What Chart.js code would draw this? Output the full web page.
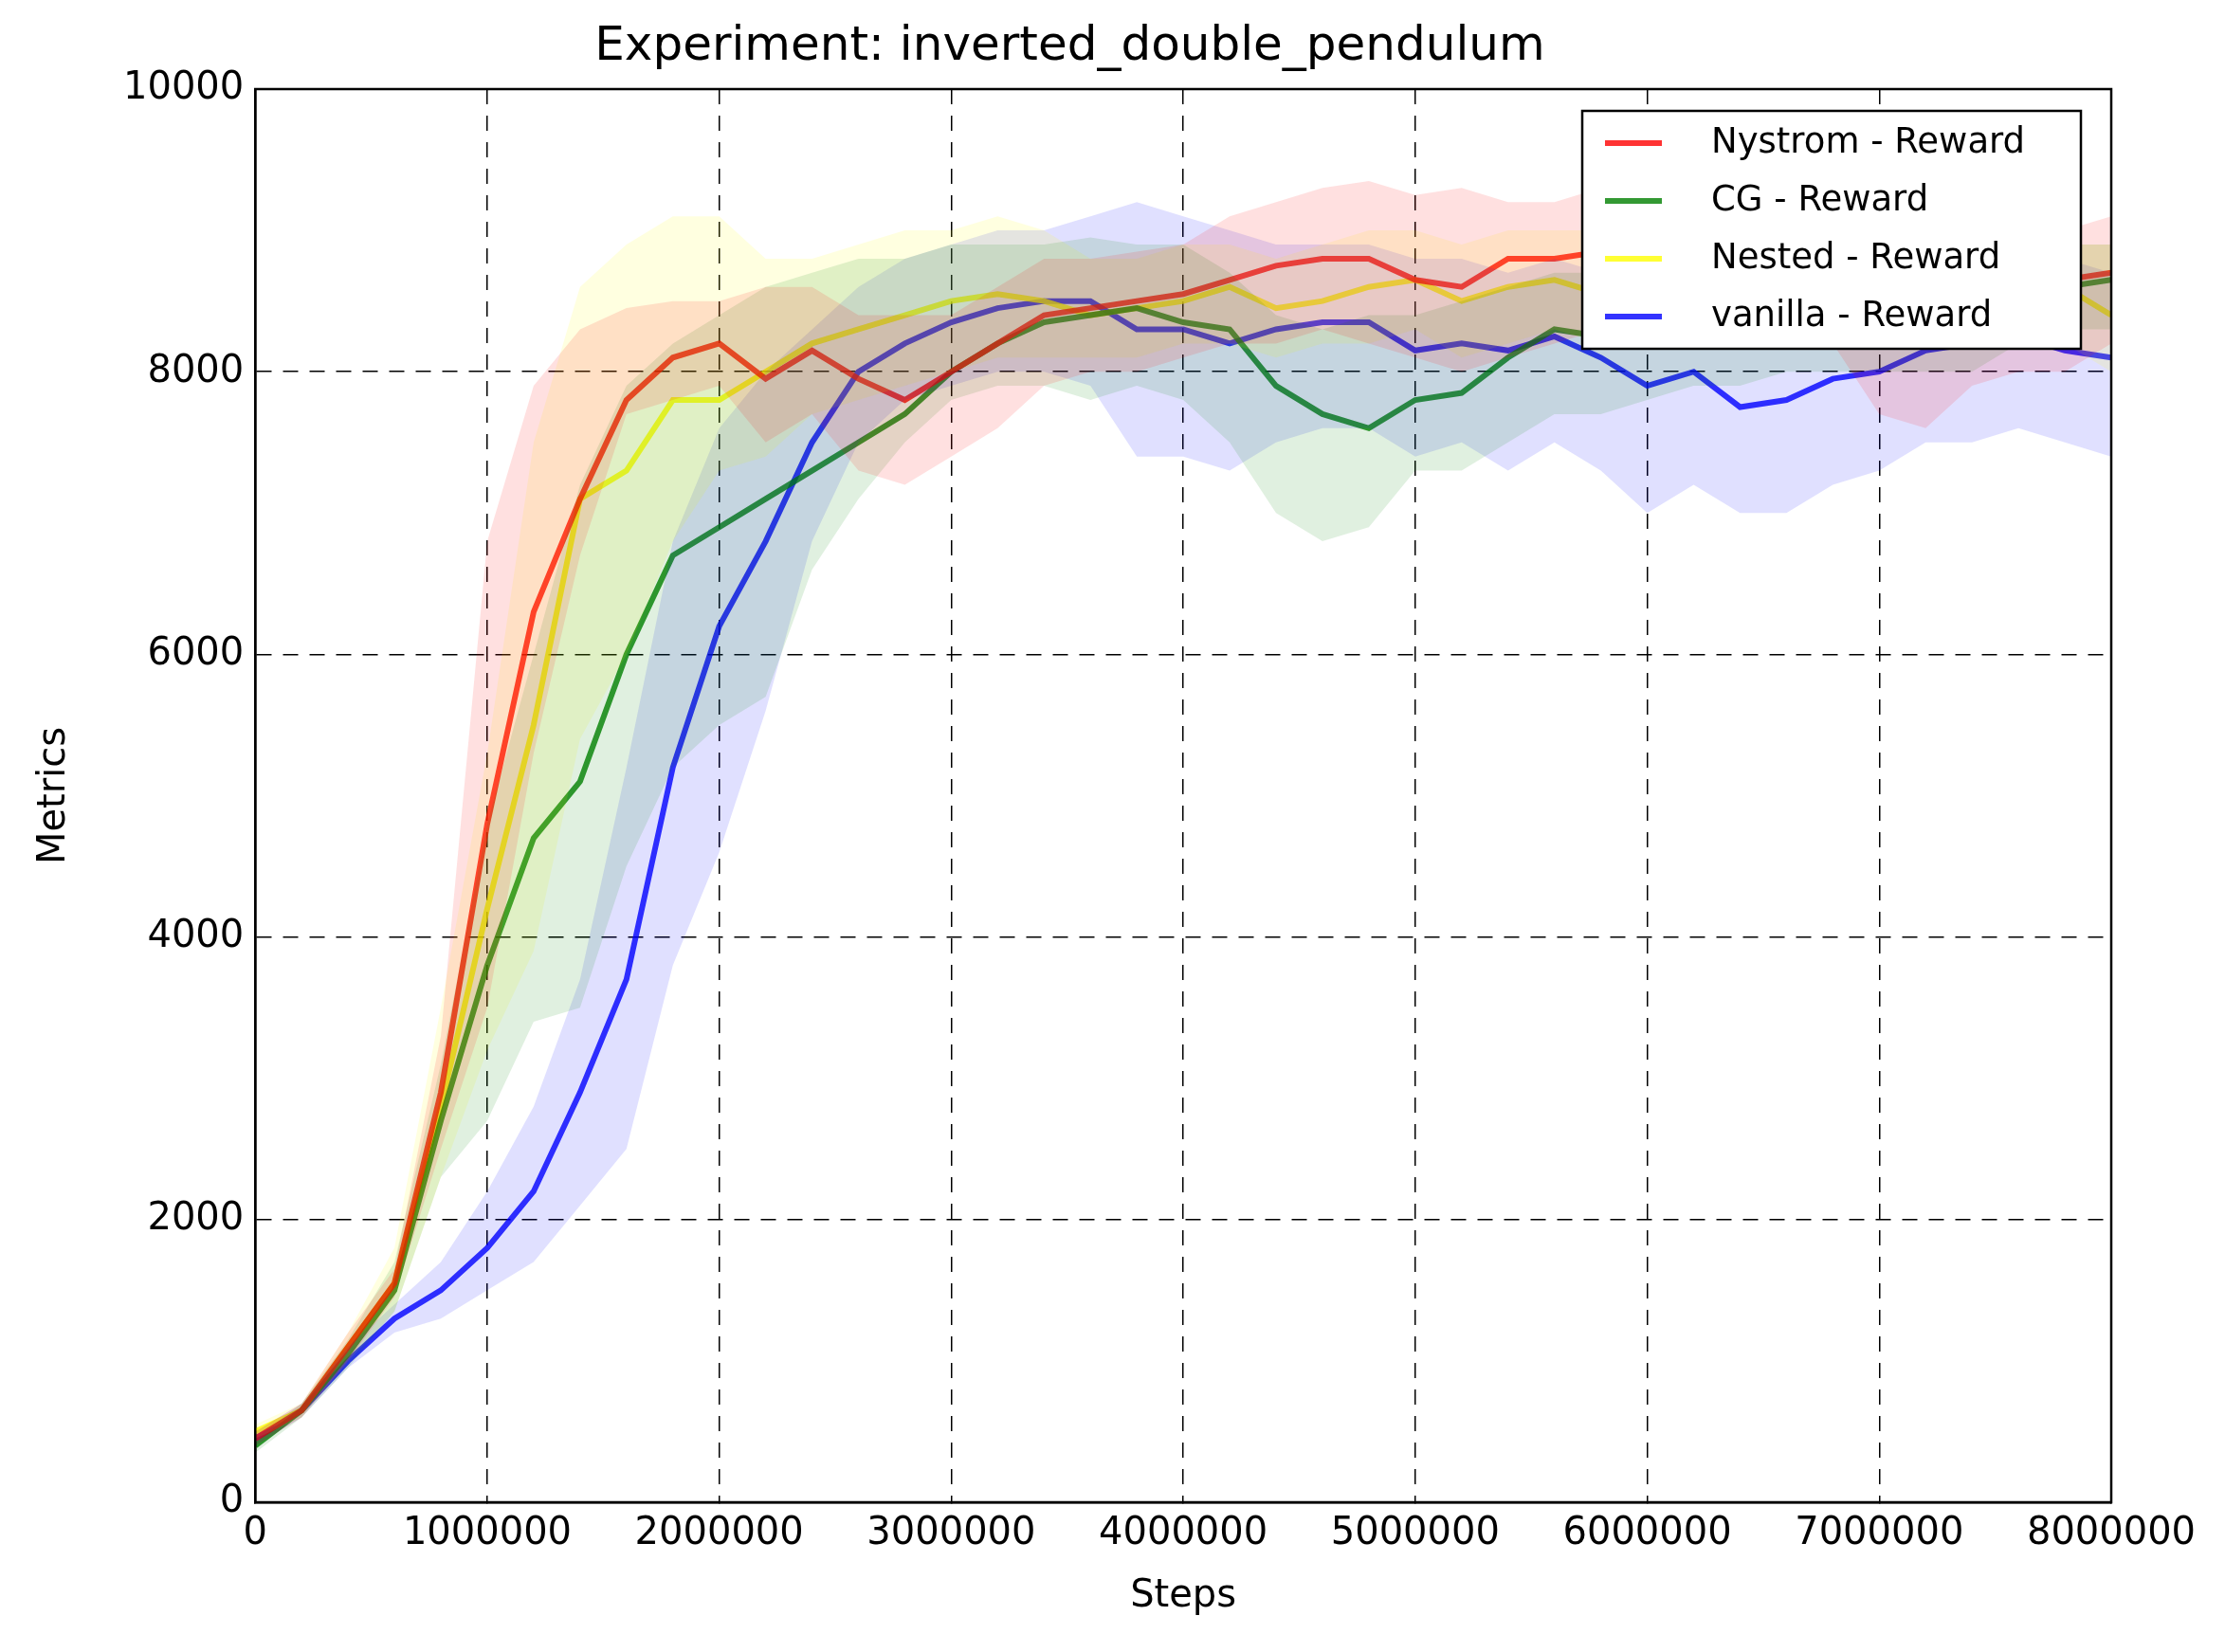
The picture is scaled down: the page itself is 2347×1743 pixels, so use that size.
<!DOCTYPE html>
<html>
<head>
<meta charset="utf-8">
<script src="https://cdn.jsdelivr.net/npm/chart.js@4"></script>
<style>
  body { margin: 0; background: #fff; }
  #wrap { width: 2347px; height: 1743px; }
</style>
</head>
<body>
<div id="wrap"><canvas id="chart" width="2347" height="1743"></canvas></div>
<script>
// steps, every 200000
const steps = [];
for (let i = 0; i <= 40; i++) steps.push(i * 200000);

const nystromMean = [450,650,1100,1550,2900,4800,6300,7100,7800,8100,8200,7950,8150,7950,7800,8000,8200,8400,8450,8500,8550,8650,8750,8800,8800,8650,8600,8800,8800,8850,8800,8850,8900,8850,8800,8700,8700,8750,8700,8650,8700];
const nystromUpper = [500,700,1200,1650,3300,6800,7900,8300,8450,8500,8500,8600,8600,8400,8400,8400,8600,8800,8800,8850,8900,9100,9200,9300,9350,9250,9300,9200,9200,9300,9300,9200,9300,9200,9100,9000,8900,9000,9000,9000,9100];
const nystromLower = [400,600,1000,1450,2500,3500,5300,6700,7700,7800,7900,7500,7700,7300,7200,7400,7600,7900,8000,8000,8100,8200,8200,8300,8200,8100,8000,8100,8200,8300,8200,8300,8400,8300,8200,7700,7600,7900,8000,8000,8200];

const cgMean = [400,650,1050,1500,2700,3800,4700,5100,6000,6700,6900,7100,7300,7500,7700,8000,8200,8350,8400,8450,8350,8300,7900,7700,7600,7800,7850,8100,8300,8250,8300,8350,8400,8450,8500,8500,8550,8600,8650,8600,8650];
const cgUpper = [450,700,1150,1700,3100,4800,6000,7200,7900,8200,8400,8600,8700,8800,8800,8900,8900,8900,8950,8900,8900,8700,8400,8300,8400,8400,8500,8600,8700,8700,8800,8800,8900,8900,9000,9000,9000,9100,9000,8900,8900];
const cgLower = [350,600,950,1350,2300,2700,3400,3500,4500,5200,5500,5700,6600,7100,7500,7800,7900,7900,7800,7900,7800,7500,7000,6800,6900,7300,7300,7500,7700,7700,7800,7900,7900,8000,8000,8000,8000,8000,8200,8300,8300];

const nestedMean = [500,650,1100,1550,2800,4200,5500,7100,7300,7800,7800,8000,8200,8300,8400,8500,8550,8500,8400,8450,8500,8600,8450,8500,8600,8650,8500,8600,8650,8550,8600,8600,8650,8700,8650,8600,8650,8650,8700,8600,8400];
const nestedUpper = [550,700,1200,1800,3500,5300,7500,8600,8900,9100,9100,8800,8800,8900,9000,9000,9100,9000,8800,8800,8900,8900,8800,8900,9000,9000,8900,9000,9000,9000,9000,9000,9100,9100,9100,9000,9100,9100,9000,8900,8900];
const nestedLower = [450,600,1000,1350,2300,3200,3900,5400,6000,6800,7300,7400,7700,7800,7900,8000,8100,8100,8100,8100,8200,8200,8100,8200,8200,8300,8100,8200,8300,8200,8200,8200,8300,8300,8200,8200,8200,8200,8300,8200,8000];

const vanillaMean = [450,650,1000,1300,1500,1800,2200,2900,3700,5200,6200,6800,7500,8000,8200,8350,8450,8500,8500,8300,8300,8200,8300,8350,8350,8150,8200,8150,8250,8100,7900,8000,7750,7800,7950,8000,8150,8200,8250,8150,8100];
const vanillaUpper = [500,700,1100,1400,1700,2200,2800,3700,5200,6800,7600,8000,8300,8600,8800,8900,9000,9000,9100,9200,9100,9000,8900,8900,8900,8800,8800,8700,8800,8700,8700,8700,8600,8600,8700,8700,8800,8800,8900,8800,8700];
const vanillaLower = [400,600,950,1200,1300,1500,1700,2100,2500,3800,4600,5600,6800,7500,7800,7900,8000,8000,7900,7400,7400,7300,7500,7600,7600,7400,7500,7300,7500,7300,7000,7200,7000,7000,7200,7300,7500,7500,7600,7500,7400];

const seriesNames = ['Nystrom - Reward', 'CG - Reward', 'Nested - Reward', 'vanilla - Reward'];
const xTicks = [0,1000000,2000000,3000000,4000000,5000000,6000000,7000000,8000000];
const yTicks = [0,2000,4000,6000,8000,10000];

const series = [
    { name: seriesNames[0], mean: nystromMean, up: nystromUpper, lo: nystromLower, rgb: '255,0,0' },
    { name: seriesNames[1], mean: cgMean, up: cgUpper, lo: cgLower, rgb: '0,128,0' },
    { name: seriesNames[2], mean: nestedMean, up: nestedUpper, lo: nestedLower, rgb: '255,255,0' },
    { name: seriesNames[3], mean: vanillaMean, up: vanillaUpper, lo: vanillaLower, rgb: '0,0,255' }
];

function pts(arr) { return arr.map((v, i) => ({ x: steps[i], y: v })); }

const datasets = [];
series.forEach(s => {
    datasets.push({ label: '', data: pts(s.up), borderWidth: 0, pointRadius: 0, fill: false });
    datasets.push({ label: '', data: pts(s.lo), borderWidth: 0, pointRadius: 0, fill: '-1',
        backgroundColor: 'rgba(' + s.rgb + ',0.12)' });
});
series.forEach(s => {
    datasets.push({ label: s.name, data: pts(s.mean), borderColor: 'rgba(' + s.rgb + ',0.8)',
        borderWidth: 6, pointRadius: 0, fill: false, tension: 0 });
});

// legend drawn inside the plot, top right
const legendBox = {
    id: 'legendBox',
    afterDraw(chart) {
        const ctx = chart.ctx;
        const x = 1669, y = 117, w = 526, h = 251;
        ctx.save();
        ctx.fillStyle = '#fff';
        ctx.fillRect(x, y, w, h);
        ctx.strokeStyle = '#000';
        ctx.lineWidth = 2.5;
        ctx.strokeRect(x, y, w, h);
        ctx.font = '37px "DejaVu Sans"';
        ctx.textBaseline = 'middle';
        series.forEach((s, i) => {
            const cy = y + 34 + i * 61;
            ctx.strokeStyle = 'rgba(' + s.rgb + ',0.8)';
            ctx.lineWidth = 6;
            ctx.beginPath();
            ctx.moveTo(x + 24, cy);
            ctx.lineTo(x + 84, cy);
            ctx.stroke();
            ctx.fillStyle = '#000';
            ctx.fillText(s.name, x + 136, cy);
        });
        ctx.restore();
    }
};

const tickFont = { family: 'DejaVu Sans', size: 40 };

new Chart(document.getElementById('chart').getContext('2d'), {
    type: 'line',
    data: { datasets },
    options: {
        responsive: false,
        animation: false,
        devicePixelRatio: 1,
        layout: { padding: { left: 30, right: 120, top: 20, bottom: 30 } },
        plugins: {
            legend: { display: false },
            tooltip: { enabled: false },
            title: {
                display: true,
                text: 'Experiment: inverted_double_pendulum',
                color: '#000',
                font: { family: 'DejaVu Sans', size: 50, weight: 'normal' },
                padding: { top: 0, bottom: 14 }
            }
        },
        scales: {
            x: {
                type: 'linear',
                min: 0, max: 8000000,
                afterBuildTicks(axis) { axis.ticks = xTicks.map(v => ({ value: v })); },
                ticks: { color: '#000', font: tickFont, maxRotation: 0, callback: v => String(v), padding: 10 },
                grid: { color: '#000', lineWidth: 1.5, tickLength: 0 },
                border: { display: true, color: '#000', width: 2.5, dash: [16, 12] },
                title: { display: true, text: 'Steps', color: '#000', font: tickFont, padding: { top: 8 } }
            },
            y: {
                min: 0, max: 10000,
                afterBuildTicks(axis) { axis.ticks = yTicks.map(v => ({ value: v })); },
                ticks: { color: '#000', font: tickFont, callback: v => String(v), padding: 12 },
                grid: { color: '#000', lineWidth: 1.5, tickLength: 0 },
                border: { display: true, color: '#000', width: 2.5, dash: [16, 12] },
                title: { display: true, text: 'Metrics', color: '#000', font: tickFont, padding: { bottom: 36 } }
            }
        }
    },
    plugins: [legendBox, {
        id: 'frame',
        afterDatasetsDraw(chart) {
            const a = chart.chartArea, ctx = chart.ctx;
            ctx.save();
            ctx.strokeStyle = '#000';
            ctx.lineWidth = 2.5;
            ctx.setLineDash([]);
            ctx.strokeRect(a.left, a.top, a.right - a.left, a.bottom - a.top);
            ctx.restore();
        }
    }]
});
</script>
</body>
</html>
